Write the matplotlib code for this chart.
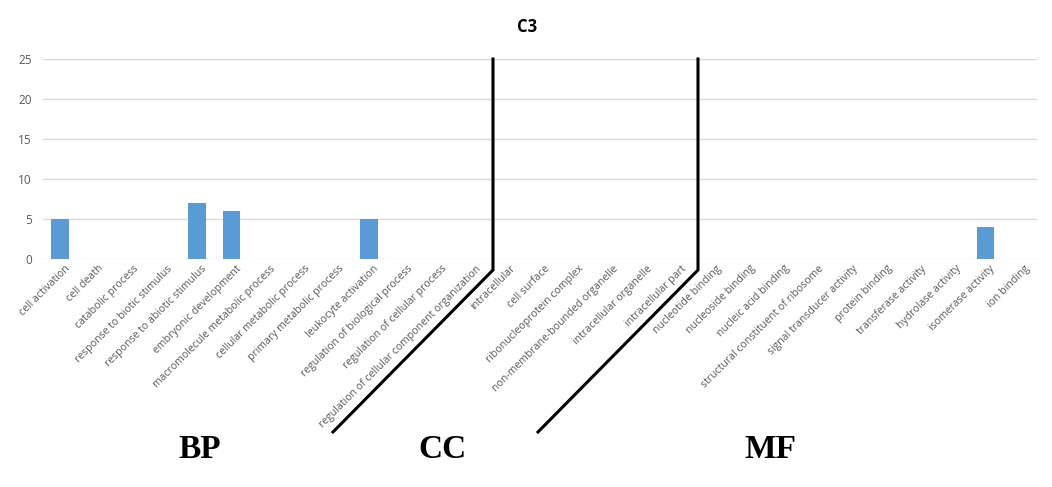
import matplotlib
matplotlib.use("Agg")
import matplotlib.pyplot as plt
from matplotlib.lines import Line2D
import matplotlib.transforms as mtrans

bp_terms = ["cell activation", "cell death", "catabolic process", "response to biotic stimulus",
            "response to abiotic stimulus", "embryonic development", "macromolecule metabolic process",
            "cellular metabolic process", "primary metabolic process", "leukocyte activation",
            "regulation of biological process", "regulation of cellular process",
            "regulation of cellular component organization"]
cc_terms = ["intracellular", "cell surface", "ribonucleoprotein complex",
            "non-membrane-bounded organelle", "intracellular organelle", "intracellular part"]
mf_terms = ["nucleotide binding", "nucleoside binding", "nucleic acid binding",
            "structural constituent of ribosome", "signal transducer activity", "protein binding",
            "transferase activity", "hydrolase activity", "isomerase activity", "ion binding"]
bp_values = [5, 0, 0, 0, 7, 6, 0, 0, 0, 5, 0, 0, 0]
cc_values = [0, 0, 0, 0, 0, 0]
mf_values = [0, 0, 0, 0, 0, 0, 0, 0, 4, 0]
y_ticks = [0, 5, 10, 15, 20, 25]
title = "C3"
group_labels = ["BP", "CC", "MF"]

categories = bp_terms + cc_terms + mf_terms
values = bp_values + cc_values + mf_values

W, H = 1052, 487
fig = plt.figure(figsize=(W / 100, H / 100), dpi=100)
ax = fig.add_axes([43 / W, 1 - 259 / H, (1037 - 43) / W, (259 - 59) / H])

x = list(range(len(categories)))
ax.bar(x, values, width=0.52, color="#5b9bd5", zorder=3)
ax.set_xlim(-0.5, len(categories) - 0.5)
ax.set_ylim(0, 25)
ax.set_yticks(y_ticks)
ax.yaxis.grid(True, color="#d9d9d9", linewidth=1)
ax.set_axisbelow(True)
for s in ["top", "right", "left", "bottom"]:
    ax.spines[s].set_visible(False)
ax.tick_params(axis="both", length=0)
ax.tick_params(axis="y", labelsize=8.5, labelcolor="#595959", pad=8)
ax.set_xticks(x)
ax.set_xticklabels(categories, rotation=45, ha="right", rotation_mode="anchor",
                   fontsize=7.6, color="#595959", fontfamily="Open Sans")
ax.tick_params(axis="x", pad=3)
for lbl in ax.get_yticklabels():
    lbl.set_fontfamily("Open Sans")
off = mtrans.ScaledTranslation(4 / 100, 0, fig.dpi_scale_trans)
for lbl in ax.get_xticklabels():
    lbl.set_transform(lbl.get_transform() + off)

fig.text(527 / W, 1 - 27 / H, title, ha="center", va="center", fontsize=12,
         fontweight="bold", fontfamily="Open Sans")

for (xt, xb) in [(493, 333), (698, 538)]:
    xs = [xt, xt, xb]
    ys = [59, 270, 432]
    fx = [v / W for v in xs]
    fy = [1 - v / H for v in ys]
    fig.add_artist(Line2D(fx, fy, transform=fig.transFigure, color="black", linewidth=2.2,
                          solid_joinstyle="miter"))

for lab, xp in zip(group_labels, [200, 442, 770]):
    fig.text(xp / W, 1 - 450 / H, lab, ha="center", va="center", fontsize=24,
             fontweight="bold", fontfamily="Liberation Serif")

fig.savefig("out.png", dpi=100)
